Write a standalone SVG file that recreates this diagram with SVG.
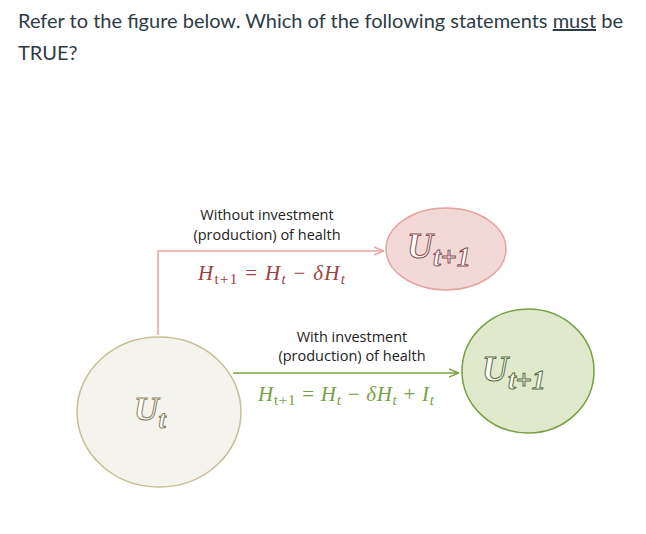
<svg xmlns="http://www.w3.org/2000/svg" width="646" height="534" viewBox="0 0 646 534">
<defs>
<style>
.q{font-family:Lato,"Liberation Sans",sans-serif;font-size:20px;fill:#2d3b45}
.lbl{font-family:"Open Sans","Liberation Sans",sans-serif;font-size:14.5px;fill:#222;text-anchor:middle}
.m{font-family:"Liberation Serif",serif;font-style:italic;font-size:21px}
.u{font-family:"Liberation Serif",serif;font-style:italic;font-weight:bold;fill:#fff;stroke-width:1}
</style>
<marker id="ag" viewBox="0 0 10 10" refX="9" refY="5" markerWidth="7" markerHeight="7" orient="auto"><path d="M0,1 L10,5 L0,9" fill="none" stroke="#77a042" stroke-width="1.5"/></marker>
<marker id="arr" viewBox="0 0 10 10" refX="9" refY="5" markerWidth="7" markerHeight="7" orient="auto"><path d="M0,1 L10,5 L0,9" fill="none" stroke="#e6a3a3" stroke-width="1.5"/></marker>
</defs>
<rect width="646" height="534" fill="#fff"/>
<text class="q" x="18" y="28">Refer to the figure below. Which of the following statements <tspan text-decoration="underline">must</tspan> be</text>
<text class="q" x="18" y="60">TRUE?</text>
<g id="connectors">
<path d="M158,335 V251 H383" fill="none" stroke="#e6a3a3" stroke-width="1.5" marker-end="url(#arr)"/>
<path d="M233,373 H458" fill="none" stroke="#77a042" stroke-width="1.5" marker-end="url(#ag)"/>
<text class="lbl" x="267" y="220">Without investment</text>
<text class="lbl" x="267" y="240">(production) of health</text>
<text class="m" x="198" y="280" fill="#a04040" textLength="147" lengthAdjust="spacing">H<tspan font-size="15" dy="4" font-style="normal">t+1</tspan><tspan dy="-4" font-style="normal"> = </tspan>H<tspan font-size="15" dy="4">t</tspan><tspan dy="-4" font-style="normal"> − </tspan>δH<tspan font-size="15" dy="4">t</tspan></text>
<text class="lbl" x="352" y="342">With investment</text>
<text class="lbl" x="352" y="361">(production) of health</text>
<text class="m" x="258" y="401" fill="#77a042" textLength="176" lengthAdjust="spacing">H<tspan font-size="15" dy="4" font-style="normal">t+1</tspan><tspan dy="-4" font-style="normal"> = </tspan>H<tspan font-size="15" dy="4">t</tspan><tspan dy="-4" font-style="normal"> − </tspan>δH<tspan font-size="15" dy="4">t</tspan><tspan dy="-4" font-style="normal"> + </tspan>I<tspan font-size="15" dy="4">t</tspan></text>
</g>
<g id="ut">
<ellipse cx="159" cy="412" rx="82" ry="75" fill="#f4f3ed" stroke="#c9bf94" stroke-width="1.5"/>
<text class="u" x="134" y="420" font-size="34" stroke="#8a8060">U<tspan font-size="26" dy="8">t</tspan></text>
</g>
<g id="ut1-red">
<ellipse cx="446" cy="249" rx="60" ry="41" fill="#f2d9d8" stroke="#e6a3a3" stroke-width="1.5"/>
<text class="u" x="407" y="258" font-size="36" stroke="#8a5050">U<tspan font-size="28" dy="8">t+1</tspan></text>
</g>
<g id="ut1-green">
<ellipse cx="528" cy="371" rx="66" ry="62" fill="#e0e9cc" stroke="#77a042" stroke-width="1.5"/>
<text class="u" x="482" y="381" font-size="36" stroke="#5a7040">U<tspan font-size="28" dy="8">t+1</tspan></text>
</g>
</svg>
